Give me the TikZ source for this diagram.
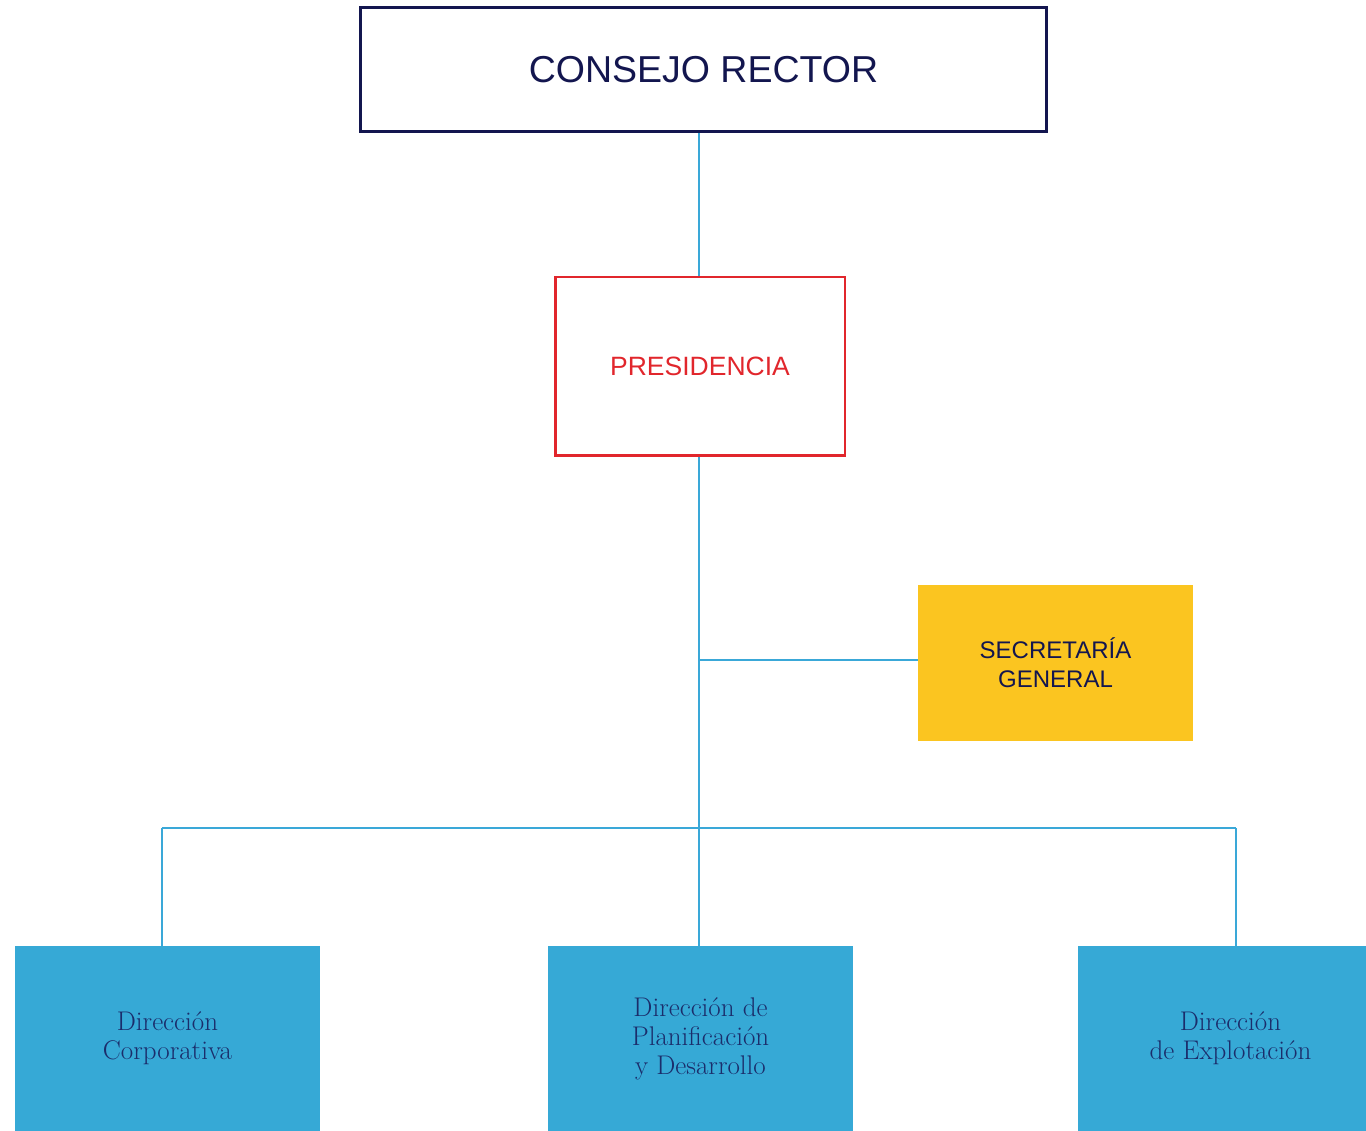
\documentclass[tikz,border=0pt]{standalone}
\usepackage{fontspec}
\newfontfamily\headfont{Liberation Sans}
\definecolor{navy}{HTML}{13164F}
\definecolor{presred}{HTML}{E1262C}
\definecolor{secyellow}{HTML}{FBC520}
\definecolor{dirblue}{HTML}{36A9D6}
\definecolor{lineblue}{HTML}{3AA8D8}
\definecolor{dirtext}{HTML}{1B2D6B}

\begin{document}
\begin{tikzpicture}[x=1pt,y=-1pt,
	link/.style={draw=lineblue, line width=2.2pt},
	dirbox/.style={fill=dirblue, minimum width=305pt, minimum height=185pt, inner sep=0pt,
		align=center, text=dirtext, font=\fontsize{27}{29}\selectfont}]
	\useasboundingbox (0,0) rectangle (1366,1131);
	% top levels
	\node[draw=navy, line width=3pt, minimum width=686pt, minimum height=124pt,
		text=navy, font=\headfont\fontsize{37.5}{44}\selectfont] (consejo) at (703.5,69.5) {CONSEJO RECTOR};
	\node[draw=presred, line width=2.5pt, minimum width=289.5pt, minimum height=178.5pt,
		text=presred, font=\headfont\fontsize{26.5}{32}\selectfont] (pres) at (700,366.5) {PRESIDENCIA};
	\node[fill=secyellow, minimum width=275pt, minimum height=156pt, align=center,
		text=navy, font=\headfont\fontsize{24}{29}\selectfont] (sec) at (1055.5,663) {SECRETARÍA\\GENERAL};
	% direcciones
	\node[dirbox] (corp) at (167.5,1038.5) {Dirección\\Corporativa};
	\node[dirbox] (plan) at (700.5,1038.5) {Dirección de\\Planificación\\y Desarrollo};
	\node[dirbox] (expl) at (1230.5,1038.5) {Dirección\\de Explotación};
	% lines
	\coordinate (j1) at (699,660);
	\coordinate (bL) at (162,828);
	\coordinate (bR) at (1236,828);
	\draw[link] (pres.north -| j1) -- (j1 |- consejo.south);
	\draw[link] (pres.south -| j1) -- (j1 |- plan.north);
	\draw[link] (j1) -- (j1 -| sec.west);
	\draw[link] (bL) -- (bR);
	\draw[link] (bL) -- (bL |- corp.north);
	\draw[link] (bR) -- (bR |- expl.north);
\end{tikzpicture}
\end{document}
